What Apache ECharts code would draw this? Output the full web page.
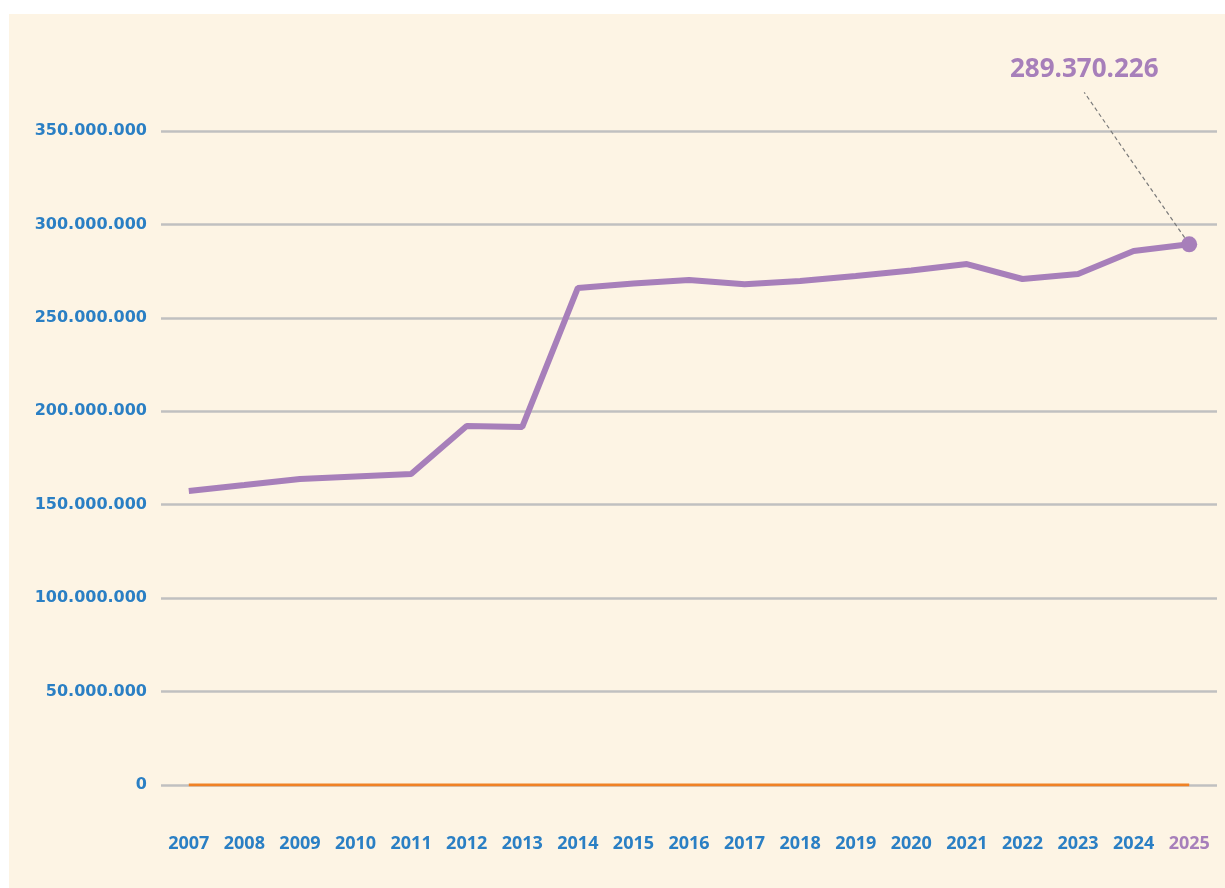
<!DOCTYPE html>
<html>
<head>
<meta charset="utf-8">
<script src="https://cdn.jsdelivr.net/npm/echarts@6/dist/echarts.min.js"></script>
<style>
  html, body { margin: 0; padding: 0; background: #ffffff; }
  .panel {
    position: absolute;
    left: 9px; top: 14px;
    width: 1216px; height: 874px;
    background: #fdf4e4;
  }
  #chart {
    position: absolute;
    left: 0; top: 0;
    width: 1225px; height: 888px;
  }
</style>
</head>
<body>
<div class="panel"></div>
<div id="chart"></div>
<script>
  // data
  var years = ['2007', '2008', '2009', '2010', '2011', '2012', '2013', '2014', '2015', '2016',
               '2017', '2018', '2019', '2020', '2021', '2022', '2023', '2024', '2025'];
  var totals = [157300000, 160500000, 163800000, 165100000, 166400000, 192100000, 191600000,
                266000000, 268400000, 270300000, 268000000, 269700000, 272400000, 275300000,
                278800000, 270800000, 273500000, 285800000, 289370226];
  var baseline = [0, 0, 0, 0, 0, 0, 0, 0, 0, 0, 0, 0, 0, 0, 0, 0, 0, 0, 0];
  var yTicks = [0, 50000000, 100000000, 150000000, 200000000, 250000000, 300000000, 350000000];

  var blue = '#2a7fc4';
  var purple = '#a77fba';
  var orange = '#f08124';
  var lastIdx = totals.length - 1;

  function dotted(n) {
    return String(n).replace(/\B(?=(\d{3})+(?!\d))/g, '.');
  }

  var chart = echarts.init(document.getElementById('chart'));
  chart.setOption({
    backgroundColor: 'transparent',
    animation: false,
    textStyle: { fontFamily: 'DejaVu Sans' },
    grid: { left: 161, right: 8, top: 131, bottom: 103 },
    xAxis: {
      type: 'category',
      data: years,
      boundaryGap: true,
      axisLine: { show: false },
      axisTick: { show: false },
      axisLabel: {
        margin: 50,
        fontSize: 18,
        fontFamily: 'Open Sans',
        fontWeight: 'bold',
        color: function (value, index) {
          return index === lastIdx ? purple : blue;
        }
      }
    },
    yAxis: {
      type: 'value',
      min: yTicks[0],
      max: yTicks[yTicks.length - 1],
      interval: yTicks[1] - yTicks[0],
      axisLine: { show: false },
      axisTick: { show: false },
      axisLabel: {
        margin: 14,
        fontSize: 16,
        fontWeight: 'bold',
        color: blue,
        formatter: function (v) { return dotted(v); }
      },
      splitLine: { lineStyle: { color: '#c0c0c0', width: 2.5 } }
    },
    series: [
      {
        name: 'base',
        type: 'line',
        data: baseline,
        symbol: 'none',
        lineStyle: { color: orange, width: 3 },
        z: 2
      },
      {
        name: 'total',
        type: 'line',
        data: totals.map(function (v, i) {
          if (i !== lastIdx) return v;
          return {
            value: v,
            label: {
              show: true,
              position: 'top',
              // spacer lines make the leader line leave from the bottom edge
              formatter: function (p) {
                return '{s| }\n{v|' + dotted(p.value) + '}\n{b| }';
              },
              rich: {
                s: { height: 140, lineHeight: 140, fontSize: 10 },
                v: {
                  fontSize: 26,
                  lineHeight: 30,
                  fontFamily: 'Open Sans',
                  fontWeight: 'bold',
                  color: purple
                },
                b: { height: 8, lineHeight: 8, fontSize: 6 }
              }
            },
            labelLine: {
              show: true,
              lineStyle: { color: '#7a7a7a', width: 1.2, type: [4, 3] }
            }
          };
        }),
        symbol: 'circle',
        symbolSize: function (v, p) { return p.dataIndex === lastIdx ? 16 : 0; },
        itemStyle: { color: purple },
        lineStyle: { color: purple, width: 6 },
        labelLayout: { dx: -105, dy: -139 },
        z: 3
      }
    ]
  });
</script>
</body>
</html>
